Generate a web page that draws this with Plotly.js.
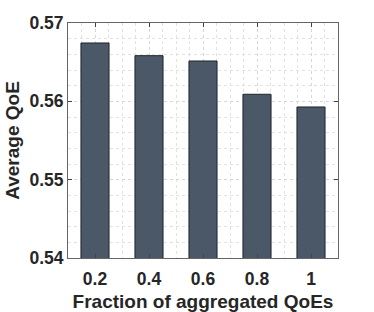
<!DOCTYPE html>
<html>
<head>
<meta charset="utf-8">
<script src="https://cdn.plot.ly/plotly-3.0.1.min.js"></script>
<style>html,body{margin:0;padding:0;background:#fff;}#chart{width:374px;height:312px;}</style>
</head>
<body>
<div id="chart"></div>
<script>
var fractions = [0.2, 0.4, 0.6, 0.8, 1];
var tickLabels = ["0.2", "0.4", "0.6", "0.8", "1"];
var avgQoE = [0.56745, 0.56583, 0.56515, 0.5609, 0.55928];
var yTicks = [0.54, 0.55, 0.56, 0.57];

var fam = "Liberation Sans, Arial, sans-serif";
var txt = "#262626";

var trace = {
  type: "bar",
  x: fractions,
  y: avgQoE,
  width: 0.104,
  marker: {color: "#4a5868", line: {color: "#1e252d", width: 1}},
  hoverinfo: "none"
};

var layout = {
  width: 374, height: 312,
  margin: {l: 68, r: 36, t: 23, b: 54},
  paper_bgcolor: "#fff", plot_bgcolor: "#fff",
  font: {family: fam, size: 17.5, color: txt},
  showlegend: false,
  xaxis: {
    range: [0.1, 1.1],
    tickvals: fractions, ticktext: tickLabels,
    ticks: "inside", ticklen: 4, tickcolor: "#444", tickwidth: 1,
    ticklabelstandoff: 5,
    showline: true, linecolor: "#666", linewidth: 1, mirror: "ticks",
    showgrid: true, gridcolor: "#d6d6d6", griddash: "dot", gridwidth: 1,
    minor: {dtick: 0.05, tick0: 0.1, showgrid: true, gridcolor: "#e2e2e2", griddash: "dot", gridwidth: 1, ticks: ""},
    zeroline: false,
    tickfont: {family: fam, size: 17.5, color: txt, weight: "bold"},
    title: {text: "<b>Fraction of aggregated QoEs</b>", font: {family: fam, size: 19, color: txt}, standoff: 6},
    automargin: false
  },
  yaxis: {
    range: [0.54, 0.57],
    tickvals: yTicks, tickformat: ".2f",
    ticks: "inside", ticklen: 4, tickcolor: "#444", tickwidth: 1,
    showline: true, linecolor: "#666", linewidth: 1, mirror: "ticks",
    showgrid: true, gridcolor: "#d6d6d6", griddash: "dot", gridwidth: 1,
    minor: {dtick: 0.002, tick0: 0.54, showgrid: true, gridcolor: "#e2e2e2", griddash: "dot", gridwidth: 1, ticks: ""},
    zeroline: false,
    tickfont: {family: fam, size: 17.5, color: txt, weight: "bold"},
    title: {text: "<b>Average QoE</b>", font: {family: fam, size: 19, color: txt}, standoff: 4},
    automargin: false
  }
};

Plotly.newPlot("chart", [trace], layout, {displayModeBar: false, staticPlot: true});
</script>
</body>
</html>
